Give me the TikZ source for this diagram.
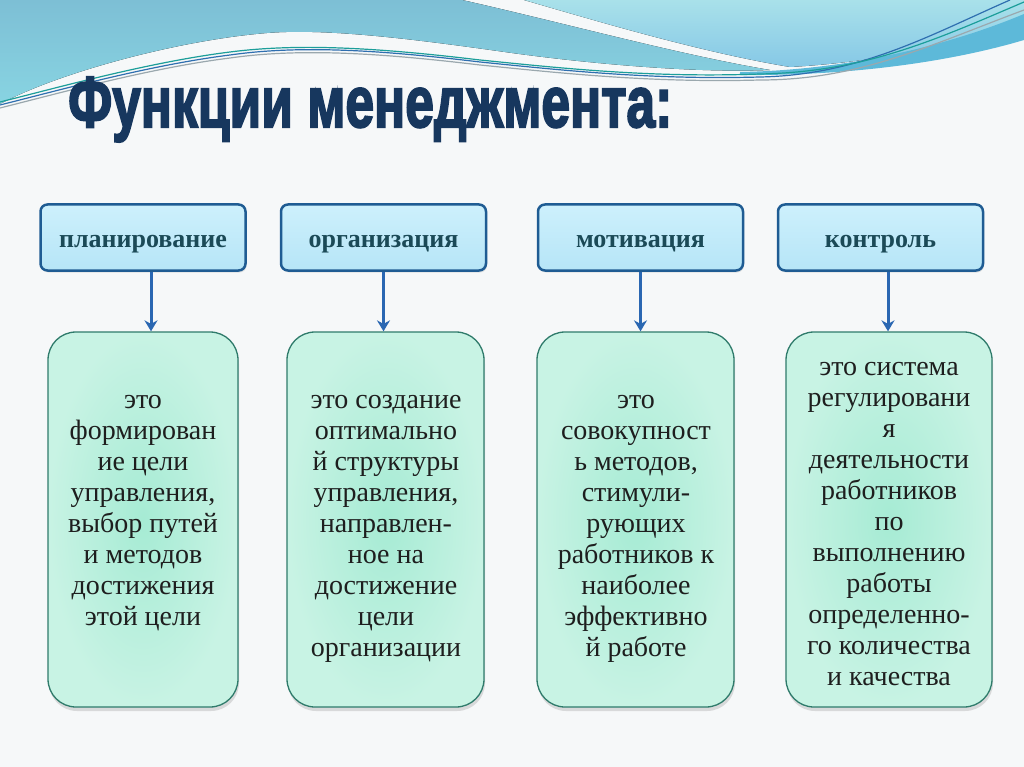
\documentclass[tikz,border=0pt]{standalone}
\usepackage{graphicx}
\usepackage{fontspec}
\setmainfont{Liberation Serif}
\newfontfamily\titlefont[FakeBold=3]{Liberation Sans Bold}
\usetikzlibrary{arrows.meta,shadows}
\definecolor{bg}{HTML}{F6F8F9}
\definecolor{waveA1}{HTML}{7DBFD5}
\definecolor{waveA2}{HTML}{88D4E2}
\definecolor{waveB1}{HTML}{A9E1EA}
\definecolor{waveB2}{HTML}{86C8E6}
\definecolor{waveC}{HTML}{5DB9D9}
\definecolor{lineteal}{HTML}{1C9E9A}
\definecolor{lineblue}{HTML}{2F6FB0}
\definecolor{linegray}{HTML}{9AA8AE}
\definecolor{titleblue}{HTML}{17375E}
\definecolor{topfill1}{HTML}{CDF0FC}
\definecolor{topfill2}{HTML}{B6E5F7}
\definecolor{topborder}{HTML}{1F5C93}
\definecolor{toptext}{HTML}{1B4A57}
\definecolor{arrblue}{HTML}{2A67B2}
\definecolor{botinner}{HTML}{A6EBD4}
\definecolor{botouter}{HTML}{C8F3E4}
\definecolor{botborder}{HTML}{2F7B6B}
\definecolor{bottext}{HTML}{1E1E1E}
\tikzset{
  topbox/.style={draw=topborder, line width=2.5pt, rounded corners=7pt,
    top color=topfill1, bottom color=topfill2,
    minimum width=205pt, minimum height=66pt, inner sep=0pt,
    text height=20pt, text depth=0pt, text=toptext,
    font=\fontsize{26}{30}\selectfont\bfseries,
    drop shadow={shadow xshift=1pt, shadow yshift=-2pt, opacity=.2}},
  botbox/.style={draw=botborder, line width=1.3pt, rounded corners=28pt,
    inner color=botinner, outer color=botouter,
    minimum height=375pt, inner sep=0pt,
    drop shadow={shadow xshift=1pt, shadow yshift=-4pt, opacity=.25}},
  bottxt/.style={anchor=north, inner sep=0pt, align=center, text=bottext,
    font=\fontsize{28}{31}\selectfont},
  arr/.style={draw=arrblue, line width=3pt, -{Stealth[length=11pt,width=13pt]}},
}
\newcommand{\fl}{\rule{0pt}{20pt}}
\begin{document}
\begin{tikzpicture}[x=1pt,y=-1pt]
\useasboundingbox (0,0) rectangle (1024,767);
\fill[bg] (0,0) rectangle (1024,767);
% waves
\fill[top color=waveA1, bottom color=waveA2] (0,0) -- (462,0)
  .. controls (560,22) and (680,55) .. (770,70)
  .. controls (700,73) and (600,65) .. (512,53)
  .. controls (420,40) and (330,28) .. (267,33)
  .. controls (180,40) and (60,72) .. (0,104) -- cycle;
\fill[top color=waveB1, bottom color=waveB2] (524,0) -- (1024,0) -- (1024,22)
  .. controls (950,45) and (880,62) .. (790,67)
  .. controls (700,52) and (600,22) .. (524,0) -- cycle;
\fill[waveC] (740,72) .. controls (850,70) and (950,45) .. (1024,14)
  -- (1024,40) .. controls (950,62) and (850,76) .. (740,75) -- cycle;
\draw[linegray, line width=1.2pt] (1024,10) .. controls (930,45) and (860,80) .. (760,80)
  .. controls (650,83) and (560,73) .. (480,65)
  .. controls (380,53) and (300,48) .. (230,58)
  .. controls (150,68) and (60,93) .. (0,108);
\draw[lineblue, line width=1.2pt] (1010,0) .. controls (930,35) and (860,75) .. (760,77)
  .. controls (650,80) and (560,70) .. (480,62)
  .. controls (380,50) and (300,45) .. (230,55)
  .. controls (150,65) and (60,90) .. (0,105);
\draw[lineteal, line width=1.2pt] (1024,2) .. controls (935,40) and (865,72) .. (760,74)
  .. controls (650,78) and (560,68) .. (480,60)
  .. controls (380,48) and (300,43) .. (230,52)
  .. controls (150,62) and (60,87) .. (0,102);
% title
\node (title) [anchor=base west, inner sep=0pt, text=titleblue] at (68,127)
  {\resizebox{604pt}{50pt}{\titlefont Функции менеджмента:}};
% top boxes
\node[topbox] (t1) at (143,237.5) {планирование};
\node[topbox] (t2) at (383.5,237.5) {организация};
\node[topbox] (t3) at (640.5,237.5) {мотивация};
\node[topbox] (t4) at (880.5,237.5) {контроль};
% bottom boxes
\node[botbox, minimum width=190pt] (b1) at (143,519.5) {};
\node[botbox, minimum width=197pt] (b2) at (385.5,519.5) {};
\node[botbox, minimum width=197pt] (b3) at (635.5,519.5) {};
\node[botbox, minimum width=206pt] (b4) at (889,519.5) {};
% texts
\node[bottxt] (b1t) at (143,388) {\fl это\\формирован\\ие цели\\управления,\\выбор путей\\и методов\\достижения\\этой цели};
\node[bottxt] (b2t) at (386,388) {\fl это создание\\оптимально\\й структуры\\управления,\\направлен-\\ное на\\достижение\\цели\\организации};
\node[bottxt] (b3t) at (636,388) {\fl это\\совокупност\\ь методов,\\стимули-\\рующих\\работников к\\наиболее\\эффективно\\й работе};
\node[bottxt] (b4t) at (889,355) {\fl это система\\регулировани\\я\\деятельности\\работников\\по\\выполнению\\работы\\определенно-\\го количества\\и качества};
% arrows
\coordinate (a1) at ([xshift=8pt]t1.south);
\coordinate (a2) at (t2.south);
\coordinate (a3) at (t3.south);
\coordinate (a4) at ([xshift=7.5pt]t4.south);
\draw[arr] (a1) -- (a1 |- b1.north);
\draw[arr] (a2) -- (a2 |- b2.north);
\draw[arr] (a3) -- (a3 |- b3.north);
\draw[arr] (a4) -- (a4 |- b4.north);
\end{tikzpicture}
\end{document}
